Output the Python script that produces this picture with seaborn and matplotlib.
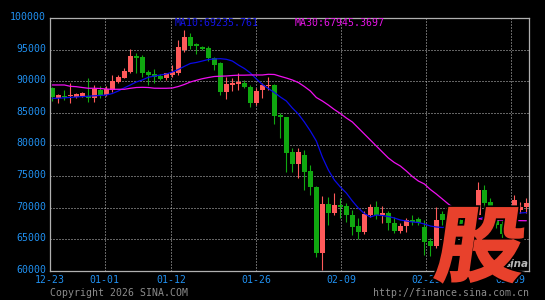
import numpy as np
import pandas as pd
import matplotlib
matplotlib.use("Agg")
import matplotlib.pyplot as plt
import seaborn as sns
from matplotlib.transforms import Affine2D, ScaledTranslation
from matplotlib.textpath import TextPath
from matplotlib.patches import PathPatch
from matplotlib.font_manager import FontProperties

# ---------------- data ----------------
opens = [88890, 87400, 87720, 87670, 87560, 87720, 87720, 87300, 88620, 87900,
         88620, 89930, 90560, 91510, 93990, 93780, 91510, 91150, 90830, 90470,
         90990, 91260, 94940, 97040, 95840, 95460, 95300, 93630, 92840, 88350,
         89410, 89520, 89800, 89090, 86560, 88620, 89200, 89410, 84720, 84350,
         78870, 76920, 78340, 75860, 73230, 62900, 70600, 69220, 70440, 70280,
         68850, 67110, 66220, 68850, 70070, 68850, 69120, 67640, 66370, 67040,
         68060, 68170, 66910, 64790, 63950, 69010, 68060, 66500, 68060, 67000,
         68200, 68900, 72800, 70860, 68600, 67380, 65850, 69650, 69650, 70170]
highs = [89100, 88000, 88620, 89680, 88140, 88250, 90510, 89410, 89250, 89170,
         90990, 90990, 92050, 95050, 94420, 94150, 91780, 91890, 91150, 91350,
         92570, 96520, 98100, 97580, 96000, 95640, 95620, 93760, 93000, 90720,
         90560, 91350, 90120, 89410, 88890, 89680, 90720, 89570, 84930, 84400,
         79400, 79400, 79130, 76760, 73440, 71860, 71650, 72290, 71490, 70700,
         69650, 68330, 69530, 70590, 71110, 70280, 69530, 68490, 67640, 68330,
         68850, 68580, 68060, 65170, 70120, 69490, 68500, 68000, 68580, 68800,
         69800, 74100, 73600, 71490, 69400, 67900, 69000, 72000, 70960, 71540]
lows = [86800, 86520, 87040, 86610, 87350, 87510, 86770, 86770, 87350, 87670,
        88350, 89680, 90470, 91300, 91260, 90720, 89410, 89680, 90200, 90200,
        90720, 90990, 94580, 95100, 94260, 94940, 93200, 91780, 87830, 87190,
        88460, 88620, 88890, 85980, 86250, 87300, 88620, 83240, 80980, 75700,
        75700, 74660, 72810, 72020, 62260, 60160, 67270, 68850, 68330, 67800,
        65690, 65010, 65850, 68490, 68170, 67540, 66480, 65960, 65960, 66210,
        67270, 67270, 62530, 62370, 63640, 67270, 65800, 66000, 66000, 66500,
        67800, 68500, 69380, 69120, 66800, 65200, 65500, 69100, 69120, 69220]
closes = [87560, 87830, 87460, 87830, 87990, 88100, 87300, 88730, 87750, 88850,
          90040, 90720, 91670, 93990, 93630, 91350, 90990, 90620, 90400, 91230,
          91510, 95460, 97040, 95620, 95530, 95100, 93630, 92570, 88350, 89640,
          89680, 89830, 89140, 86560, 88460, 89410, 89410, 84500, 84300, 78700,
          76920, 78870, 75700, 73230, 62900, 70600, 69220, 70440, 70170, 68850,
          67000, 66220, 68960, 70070, 68780, 69120, 67540, 66370, 67160, 68060,
          67800, 67640, 64630, 63950, 68060, 68060, 66500, 67500, 67000, 68200,
          69380, 72800, 70700, 69750, 67270, 65850, 68500, 71200, 70170, 70700]
ma10 = [87300, 87320, 87380, 87450, 87510, 87570, 87640, 87700, 87760, 87830,
        88060, 88460, 88960, 89410, 89880, 90200, 90630, 90830, 90990, 91150,
        91460, 91860, 92360, 92810, 92970, 93200, 93440, 93520, 93570, 93470,
        93200, 92570, 92020, 91310, 90360, 89490, 88850, 88220, 87510, 86880,
        85770, 84820, 83560, 82140, 80550, 78020, 75970, 74390, 73280, 72330,
        71070, 69960, 69090, 68540, 68850, 68770, 68620, 68380, 68060, 67910,
        67750, 67670, 67430, 67110, 66960, 66880, 66960, 67110, 67270, 67590,
        67910, 68220, 68540, 68700, 68850, 68930, 69010, 69090, 69170, 69235.761]
ma30 = [89410, 89410, 89410, 89200, 89140, 89010, 88890, 88890, 88850, 88770,
        88730, 88730, 88730, 88890, 89010, 89040, 89010, 88900, 88890, 88890,
        88930, 89170, 89490, 89880, 90150, 90400, 90590, 90750, 90800, 90830,
        90910, 90960, 90960, 90990, 90990, 90990, 91100, 91070, 90780, 90510,
        90200, 89800, 89170, 88460, 87430, 86880, 86240, 85530, 84900, 84190,
        83560, 82610, 81660, 80710, 79760, 78810, 77870, 77150, 76600, 75810,
        74940, 74230, 73760, 72890, 72170, 71380, 70590, 69880, 69410, 68930,
        68540, 68300, 68140, 68060, 68060, 68060, 68020, 67990, 67960, 67945.3697]
tick_labels = ["12-23", "01-01", "01-12", "01-26", "02-09", "02-23", "03-09"]
tick_days = [0, 9, 20, 34, 48, 62, 76]
axis_days = 79
y_ticks = [60000, 65000, 70000, 75000, 80000, 85000, 90000, 95000, 100000]

# ---------------- style ----------------
sns.set_theme(style="dark", rc={"axes.facecolor": "#000000",
                                "figure.facecolor": "#000000",
                                "savefig.facecolor": "#000000"})
plt.rcParams["font.family"] = ["DejaVu Sans Mono"]

W, H = 545, 300
fig = plt.figure(figsize=(W / 100, H / 100), dpi=100)
fig.patch.set_facecolor("#000000")
ax = fig.add_axes([50 / W, 1 - 271 / H, (529 - 50) / W, (271 - 18) / H])
ax.set_facecolor("#000000")

df = pd.DataFrame({"i": np.arange(len(opens)), "open": opens, "high": highs,
                   "low": lows, "close": closes, "ma10": ma10, "ma30": ma30})
up = df["close"] >= df["open"]
RED, GREEN = "#FF5A5A", "#10A810"
cols = np.where(up, RED, GREEN)
body_bottom = np.minimum(df["open"], df["close"])
body_h = np.maximum(np.abs(df["close"] - df["open"]), 170)

xmin = -0.39
xmax = xmin + 479 / 6
ax.set_xlim(xmin, xmax)
ax.set_ylim(60000, 100000)

ax.vlines(df["i"], df["low"], df["high"], colors=cols, linewidth=0.8, zorder=3)
ax.bar(df["i"], body_h, bottom=body_bottom, width=0.78, color=cols,
       linewidth=0, zorder=4)

sns.lineplot(x=df["i"], y=df["ma10"], ax=ax, color="#0A0AE8", linewidth=0.9,
             estimator=None, sort=False, legend=False, zorder=5)
sns.lineplot(x=df["i"], y=df["ma30"], ax=ax, color="#F010F0", linewidth=0.9,
             estimator=None, sort=False, legend=False, zorder=5)
ax.set_xlabel("")
ax.set_ylabel("")

tick_x = xmin + np.array(tick_days) * (xmax - xmin) / axis_days
ax.set_xticks(tick_x)
ax.set_xticklabels(tick_labels)
ax.set_yticks(y_ticks)
ax.set_yticklabels([str(v) for v in y_ticks])
ax.tick_params(axis="both", length=0, labelsize=7.1, labelcolor="#2090F0")
ax.tick_params(axis="y", pad=2.9)
ax.tick_params(axis="x", pad=2.6)
for lab in ax.get_yticklabels():
    lab.set_transform(lab.get_transform() +
                      ScaledTranslation(0, 2 / 100, fig.dpi_scale_trans))

ax.grid(True, color="#C8C8C8", linestyle=(0, (1, 2)), linewidth=0.72, zorder=1)
ax.set_axisbelow(True)
for s in ax.spines.values():
    s.set_visible(True)
    s.set_color("#B0B0B0")
    s.set_linewidth(0.9)
    s.set_zorder(6)

# MA labels
fig.text(175 / W, 1 - 17.5 / H, f"MA10:{ma10[-1]}", color="#1414E6",
         fontsize=7.1, va="top", ha="left")
fig.text(295 / W, 1 - 17.5 / H, f"MA30:{ma30[-1]}", color="#E614E6",
         fontsize=7.1, va="top", ha="left")

# footer
fig.text(50 / W, 1 - 292.5 / H, "Copyright 2026 SINA.COM", color="#8C8C8C",
         fontsize=7.1, va="center", ha="left")
fig.text(529 / W, 1 - 292.5 / H, "http://finance.sina.com.cn", color="#8C8C8C",
         fontsize=7.1, va="center", ha="right")

# watermark logo
fig.text(505 / W, 1 - 267 / H, "sina", color="#B8B8B8", fontsize=7.5,
         style="italic", weight="bold", family=["DejaVu Sans"], zorder=9)
fp = FontProperties(family="Noto Sans CJK SC", weight="bold")
tp = TextPath((0, 0), "股", size=100, prop=fp)
ext = tp.get_extents()
tr = (Affine2D().translate(-ext.x0, -ext.y0)
      .scale(84 / ext.width, 74 / ext.height)
      .skew_deg(8, 0)
      .translate(434, H - 282)
      .scale(1 / W, 1 / H) + fig.transFigure)
shadow = PathPatch(tp, transform=tr, facecolor="#000000", edgecolor="#000000",
                   linewidth=4.0, zorder=9.5)
fig.add_artist(shadow)
logo = PathPatch(tp, transform=tr, facecolor="#E8412C", edgecolor="#E8412C",
                 linewidth=1.6, zorder=10)
fig.add_artist(logo)

fig.savefig("out.png", dpi=100, facecolor="#000000")
